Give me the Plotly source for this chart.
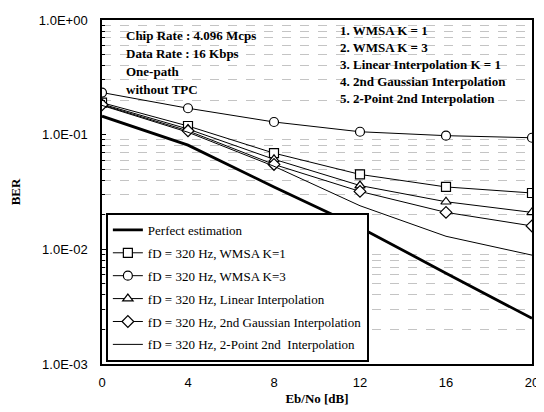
import plotly.graph_objects as go

ebno = [0, 4, 8, 12, 16, 20]
perfect = [0.145, 0.081, 0.035, 0.0155, 0.0062, 0.0025]
wmsa_k1 = [0.19, 0.119, 0.069, 0.045, 0.035, 0.031]
wmsa_k3 = [0.233, 0.17, 0.129, 0.106, 0.098, 0.094]
linear = [0.185, 0.112, 0.061, 0.036, 0.026, 0.021]
gauss = [0.182, 0.108, 0.055, 0.032, 0.021, 0.016]
twopoint = [0.18, 0.105, 0.053, 0.024, 0.013, 0.0089]

names = [
    "Perfect estimation",
    "fD = 320 Hz, WMSA K=1",
    "fD = 320 Hz, WMSA K=3",
    "fD = 320 Hz, Linear Interpolation",
    "fD = 320 Hz, 2nd Gaussian Interpolation",
    "fD = 320 Hz, 2-Point 2nd  Interpolation",
]
series = [perfect, wmsa_k1, wmsa_k3, linear, gauss, twopoint]
symbols = [None, "square", "circle", "triangle-up", "diamond", None]
widths = [2.8, 1, 1, 1, 1, 1]

ytickvals = [1e-3, 1e-2, 1e-1, 1]
yticktext = ["1.0E-03", "1.0E-02", "1.0E-01", "1.0E+00"]
yminor = [m * 10.0 ** e for e in (-3, -2, -1) for m in range(2, 10)]
xticks = [0, 4, 8, 12, 16, 20]

left_notes = ["Chip Rate : 4.096 Mcps", "Data Rate : 16 Kbps", "One-path", "without TPC"]
right_notes = ["1. WMSA K = 1", "2. WMSA K = 3", "3. Linear Interpolation K = 1",
               "4. 2nd Gaussian Interpolation", "5. 2-Point 2nd Interpolation"]

fig = go.Figure()
for i, (nm, ys, sym, w) in enumerate(zip(names, series, symbols, widths)):
    mode = "lines+markers" if sym else "lines"
    fig.add_trace(go.Scatter(
        x=ebno, y=ys, name=nm, mode=mode, legendgroup=str(i),
        line=dict(color="black", width=w),
        marker=dict(symbol=sym or "circle", size=9, color="white",
                    line=dict(color="black", width=1.2)),
    ))

serif = "Liberation Serif"
for j, t in enumerate(left_notes):
    fig.add_annotation(text=t, xref="paper", yref="paper", x=0.05, y=0.954 - j * 0.0517,
                       xanchor="left", yanchor="middle", showarrow=False,
                       font=dict(family=serif, size=13, color="black", weight="bold"))
for j, t in enumerate(right_notes):
    fig.add_annotation(text=t, xref="paper", yref="paper", x=0.549, y=0.969 - j * 0.0493,
                       xanchor="left", yanchor="middle", showarrow=False,
                       font=dict(family=serif, size=13, color="black", weight="bold"))

fig.update_layout(
    width=536, height=404,
    margin=dict(l=94, r=8, t=5, b=48),
    paper_bgcolor="white", plot_bgcolor="white",
    showlegend=True,
    legend=dict(x=0.009, y=0.006, xanchor="left", yanchor="bottom",
                bgcolor="white", bordercolor="black", borderwidth=2,
                font=dict(family=serif, size=13, color="black"),
                tracegroupgap=3, itemwidth=30),
    xaxis=dict(range=[0, 20], tickvals=xticks, showgrid=False, zeroline=False,
               showline=True, linecolor="black", linewidth=1.5, mirror=True,
               ticks="", ticklabelstandoff=6, ticklabeloverflow="allow",
               tickfont=dict(family="Liberation Sans", size=13, color="black"),
               title=dict(text="Eb/No [dB]", standoff=5,
                          font=dict(family=serif, size=13, color="black", weight="bold"))),
    yaxis=dict(type="log", range=[-3, 0], tickvals=ytickvals, ticktext=yticktext,
               showgrid=False, zeroline=False,
               showline=True, linecolor="black", linewidth=1.5, mirror=True,
               ticks="inside", ticklen=4, tickcolor="black", ticklabelstandoff=10,
               ticklabeloverflow="allow",
               minor=dict(ticks="inside", ticklen=3, tickcolor="black", tickvals=yminor,
                          showgrid=True, gridcolor="#c4c4c4", griddash="dash", gridwidth=1),
               tickfont=dict(family="Liberation Sans", size=13, color="black"),
               title=dict(text="BER", standoff=16,
                          font=dict(family=serif, size=13, color="black", weight="bold"))),
)

fig.write_html("out.html", config={"displayModeBar": False})
